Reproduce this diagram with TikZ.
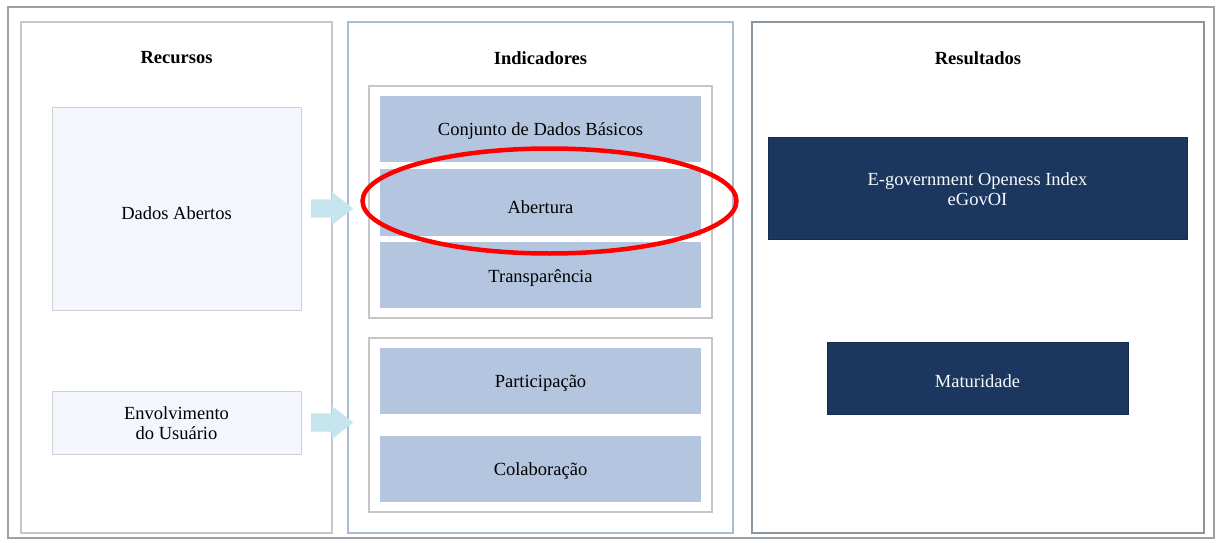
\documentclass[tikz,border=0pt]{standalone}
\usepackage{fontspec}
\setmainfont{Liberation Serif}
\usetikzlibrary{shapes.arrows}
\definecolor{panelgray}{HTML}{C6C6C6}
\definecolor{panelblue}{HTML}{A9BCD3}
\definecolor{paneldark}{HTML}{8C969F}
\definecolor{paleblue}{HTML}{F4F6FD}
\definecolor{steel}{HTML}{B4C5DF}
\definecolor{navy}{HTML}{1B375F}
\definecolor{cyanarrow}{HTML}{C6E5EE}
\definecolor{framegray}{HTML}{A0A0A0}
\tikzset{
  txt/.style={font=\fontsize{18.5}{21}\selectfont, align=center},
  head/.style={txt, font=\fontsize{18.5}{21}\selectfont\bfseries},
  panel/.style={draw=#1, line width=2pt, fill=white},
  resbox/.style={draw=panelgray!80, line width=1pt, fill=paleblue},
  indbox/.style={draw=none, fill=steel},
  groupbox/.style={draw=panelgray, line width=2pt, fill=white},
  darkbox/.style={draw=navy!80!black, line width=0.8pt, fill=navy},
  flow/.style={single arrow, fill=cyanarrow, draw=none, anchor=west,
    text height=0pt, text depth=0pt, inner xsep=0pt, inner ysep=9pt,
    minimum height=42pt, single arrow head extend=7.5pt,
    single arrow tip angle=76, single arrow head indent=0pt},
}
\begin{document}
\begin{tikzpicture}[x=1pt, y=-1pt]
\useasboundingbox (0,0) rectangle (1216,543);
% outer frame
\draw[framegray, line width=1.5pt] (8,7) rectangle (1214,538);

% three columns
\draw[panel=panelgray] (21,22) rectangle (332,533);
\draw[panel=panelblue] (348,22) rectangle (733,533);
\draw[panel=paneldark] (752,22) rectangle (1204,533);

\node[head] (hrec) at (176.5,58) {Recursos};
\node[head] (hind) at (540.5,58) {Indicadores};
\node[head] (hres) at (978,58) {Resultados};

% resources
\draw[resbox] (52,107) rectangle (301,310);
\node[txt] (dados) at (176.5,213) {Dados Abertos};
\draw[resbox] (52,391) rectangle (301,454);
\node[txt, text depth=0pt] (envol) at (176.5,423.5) {Envolvimento\\[-1pt]do Usuário};

% indicator groups
\draw[groupbox] (369,86) rectangle (712,318);
\draw[groupbox] (369,338) rectangle (712,512);
\draw[indbox] (380,96) rectangle (701,162);
\draw[indbox] (380,169) rectangle (701,236);
\draw[indbox] (380,242) rectangle (701,308);
\draw[indbox] (380,348) rectangle (701,414);
\draw[indbox] (380,436) rectangle (701,502);
\node[txt] (conj) at (540.5,131) {Conjunto de Dados Básicos};
\node[txt] (aber) at (540.5,207) {Abertura};
\node[txt] (transp) at (540.5,278) {Transparência};
\node[txt] (part) at (540.5,383) {Participação};
\node[txt] (colab) at (540.5,471) {Colaboração};

% flow arrows from resources to indicators
\node[flow] (a1) at (311,208.5) {};
\node[flow] (a2) at (311,422.5) {};

% results
\draw[darkbox] (768,137) rectangle (1187,239);
\node[txt, text=white!92!steel] (egov) at (977.5,189) {E-government Openess Index\\[-1pt]eGovOI};
\draw[darkbox] (827,342) rectangle (1128,414);
\node[txt, text=white!92!steel] (mat) at (977.5,381) {Maturidade};

% highlight
\draw[red, line width=4.5pt] (549.5,201) ellipse [x radius=187, y radius=52.5];
\end{tikzpicture}
\end{document}
